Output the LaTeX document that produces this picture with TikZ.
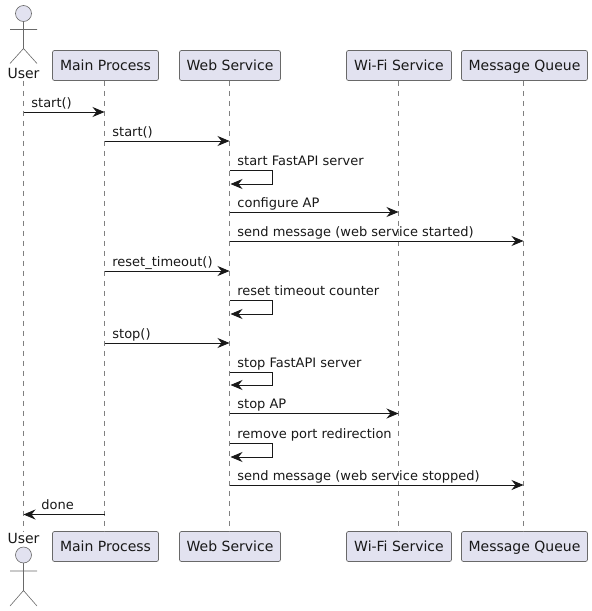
\documentclass[tikz,border=0pt]{standalone}
\usepackage{fontspec}
\setmainfont{DejaVu Sans}
\usetikzlibrary{arrows.meta}
\definecolor{boxfill}{HTML}{E2E2F0}
\definecolor{ink}{HTML}{181818}
\tikzset{
  part/.style={draw=ink!65,line width=0.7pt,fill=boxfill,rounded corners=2pt,minimum height=30pt,inner sep=0pt,text height=11.5pt,text depth=2.5pt,font=\fontsize{14pt}{16pt}\selectfont,text=ink},
  actorname/.style={inner sep=0pt,font=\fontsize{14pt}{16pt}\selectfont,text=ink},
  actorline/.style={draw=ink!65,line width=0.6pt},
  actorhead/.style={draw=ink!65,line width=0.6pt,fill=boxfill},
  life/.style={draw=ink!55,line width=0.6pt,dash pattern=on 5pt off 5pt},
  msg/.style={draw=ink,line width=0.8pt,-{Stealth[length=12pt,width=10pt,inset=4pt]}},
  lbl/.style={inner sep=0pt,anchor=base west,xshift=7.5pt,yshift=5pt,font=\fontsize{13pt}{15pt}\selectfont,text=ink},
}
\begin{document}
\begin{tikzpicture}[x=1pt,y=-1pt]
\useasboundingbox (0,0) rectangle (592,611);
% lifelines
\coordinate (user) at (23.5,80.5);
\coordinate (userend) at (23.5,531);
\draw[life] (user) -- (userend);
\node[part,minimum width=106pt] (main) at (105.5,65.5) {Main Process};
\node[part,minimum width=101pt] (web) at (230,65.5) {Web Service};
\node[part,minimum width=105pt] (wifi) at (399,65.5) {Wi-Fi Service};
\node[part,minimum width=126pt] (mq) at (524.5,65.5) {Message Queue};
\node[part,minimum width=106pt] (mainb) at (105.5,546.5) {Main Process};
\node[part,minimum width=101pt] (webb) at (230,546.5) {Web Service};
\node[part,minimum width=105pt] (wifib) at (399,546.5) {Wi-Fi Service};
\node[part,minimum width=126pt] (mqb) at (524.5,546.5) {Message Queue};
\draw[life] (main.south -| 104.5,0) -- (mainb.north -| 104.5,0);
\draw[life] (web.south -| 229.5,0) -- (webb.north -| 229.5,0);
\draw[life] (wifi.south -| 398.5,0) -- (wifib.north -| 398.5,0);
\draw[life] (mq.south -| 523.5,0) -- (mqb.north -| 523.5,0);
% actors
\node[actorname] (utop) at (23.5,73) {User};
\node[actorname] (ubot) at (23.5,538.5) {User};
\draw[actorhead] (23.5,13.5) circle (8pt);
\draw[actorline] (23.5,21.5) -- (23.5,48.5) (10,29.5) -- (37,29.5) (10,63.5) -- (23.5,48.5) -- (37,63.5);
\draw[actorhead] (23.5,555) circle (8pt);
\draw[actorline] (23.5,563) -- (23.5,590.5) (10,571) -- (37,571) (10,606) -- (23.5,590.5) -- (37,606);
% messages
\draw[msg] (user |- 0,112) -- (104.5,112) node[lbl,at start] (l1) {start()};
\draw[msg] (104.5,141) -- (229.5,141) node[lbl,at start] (l2) {start()};
\draw[msg] (229.5,170.5) -- (272.5,170.5) node[lbl,at start] (l3) {start FastAPI server} -- (272.5,184) -- (230.5,184);
\draw[msg] (229.5,212) -- (398.5,212) node[lbl,at start] (l4) {configure AP};
\draw[msg] (229.5,241) -- (523.5,241) node[lbl,at start] (l5) {send message (web service started)};
\draw[msg] (104.5,271) -- (229.5,271) node[lbl,at start] (l6) {reset\_timeout()};
\draw[msg] (229.5,300) -- (272.5,300) node[lbl,at start] (l7) {reset timeout counter} -- (272.5,314) -- (230.5,314);
\draw[msg] (104.5,343) -- (229.5,343) node[lbl,at start] (l8) {stop()};
\draw[msg] (229.5,372) -- (272.5,372) node[lbl,at start] (l9) {stop FastAPI server} -- (272.5,385) -- (230.5,385);
\draw[msg] (229.5,413.5) -- (398.5,413.5) node[lbl,at start] (l10) {stop AP};
\draw[msg] (229.5,443) -- (272.5,443) node[lbl,at start] (l11) {remove port redirection} -- (272.5,457) -- (230.5,457);
\draw[msg] (229.5,485) -- (523.5,485) node[lbl,at start] (l12) {send message (web service stopped)};
\draw[msg] (104.5,514.5) -- (user |- 0,514.5) node[lbl,at end,xshift=10pt] (l13) {done};
\end{tikzpicture}
\end{document}
